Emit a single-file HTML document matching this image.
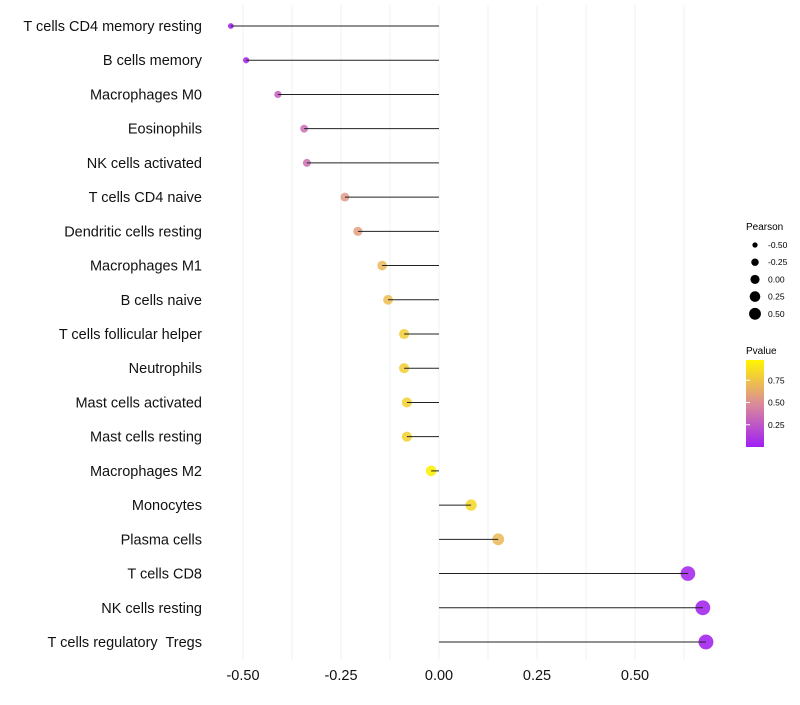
<!DOCTYPE html>
<html><head><meta charset="utf-8"><style>
body{margin:0;background:#fff;font-family:"Liberation Sans",sans-serif}
</style></head><body>
<svg id="c" width="800" height="700" xmlns="http://www.w3.org/2000/svg">
<defs><linearGradient id="pg" x1="0" y1="1" x2="0" y2="0">
<stop offset="0" stop-color="#9f1ff5"/><stop offset="0.5" stop-color="#dc8c98"/><stop offset="1" stop-color="#fff500"/></linearGradient></defs>
<g id="grid"></g><g id="pts"></g><g id="marks"></g><g id="ylab"></g><g id="xlab"></g>
<g id="legend">
<text x="746" y="230" font-size="10">Pearson</text>
<g id="sizeleg"></g>
<text x="746" y="354" font-size="10">Pvalue</text>
<rect x="746" y="360" width="18" height="87" fill="url(#pg)"/>
<g id="colleg"></g>
</g>
</svg>
<script>
const cells=["T cells CD4 memory resting","B cells memory","Macrophages M0","Eosinophils","NK cells activated","T cells CD4 naive","Dendritic cells resting","Macrophages M1","B cells naive","T cells follicular helper","Neutrophils","Mast cells activated","Mast cells resting","Macrophages M2","Monocytes","Plasma cells","T cells CD8","NK cells resting","T cells regulatory  Tregs"];
const pearson=[-0.531,-0.492,-0.411,-0.344,-0.337,-0.240,-0.207,-0.145,-0.130,-0.089,-0.089,-0.082,-0.082,-0.020,0.082,0.151,0.635,0.673,0.681];
const pvalue=[0.03,0.06,0.3,0.36,0.37,0.55,0.58,0.7,0.72,0.8,0.8,0.82,0.82,0.97,0.85,0.7,0.06,0.04,0.03];
const xTicks=[-0.5,-0.25,0,0.25,0.5];
const xTickLabels=["-0.50","-0.25","0.00","0.25","0.50"];
const sizeLeg=[-0.5,-0.25,0,0.25,0.5];
const sizeLegLabels=["-0.50","-0.25","0.00","0.25","0.50"];
const colLeg=[0.25,0.5,0.75];
const colLegLabels=["0.25","0.50","0.75"];
const NS="http://www.w3.org/2000/svg";
const X=v=>439+v*392;
const Y=i=>26+i*(642-26)/(cells.length-1);
const R=v=>Math.sqrt(Math.max(4,29+39*v));
function hx(a,b,t){const p=s=>[1,3,5].map(k=>parseInt(s.substr(k,2),16));const A=p(a),B=p(b);return"rgb("+A.map((x,i)=>Math.round(x+(B[i]-x)*t)).join(",")+")";}
function col(p){return p<0.5?hx("#9f1ff5","#e096a0",p/0.5):hx("#e096a0","#fff500",(p-0.5)/0.5);}
function mk(t,a,par){const e=document.createElementNS(NS,t);for(const k in a)e.setAttribute(k,a[k]);document.getElementById(par).appendChild(e);return e;}
for(let v=-0.5;v<=0.626;v+=0.125){const g=mk("line",{x1:X(v),x2:X(v),y1:5,y2:660,stroke:"#f2f2f2","stroke-width":1},"grid");

}
cells.forEach((c,i)=>{
const p=mk("circle",{cx:X(pearson[i]),cy:Y(i),r:R(pearson[i]),fill:col(pvalue[i]),"fill-opacity":0.9},"pts");


const l=mk("line",{x1:X(0),x2:X(pearson[i]),y1:Y(i),y2:Y(i),stroke:"#222","stroke-width":1},"marks");


const t=mk("text",{x:202,y:Y(i)+5,"font-size":14.5,"text-anchor":"end",fill:"#111"},"ylab");t.textContent=c;
t.setAttribute('xml:space','preserve');t.style.whiteSpace='pre';


});
xTicks.forEach((v,i)=>{const t=mk("text",{x:X(v),y:680,"font-size":14.5,"text-anchor":"middle",fill:"#111"},"xlab");t.textContent=xTickLabels[i];

});
sizeLeg.forEach((v,i)=>{const y=245+i*17.2;
const c=mk("circle",{cx:755,cy:y,r:R(v)*0.85,fill:"#000"},"sizeleg");


const t=mk("text",{x:768,y:y+3,"font-size":8.5},"sizeleg");t.textContent=sizeLegLabels[i];

});
colLeg.forEach((v,i)=>{const y=447-v*89;
const t=mk("text",{x:768,y:y+3,"font-size":8.5},"colleg");t.textContent=colLegLabels[i];


const k=mk("line",{x1:746,x2:750,y1:y,y2:y,stroke:"#fff"},"colleg");

});
</script>
</body></html>
